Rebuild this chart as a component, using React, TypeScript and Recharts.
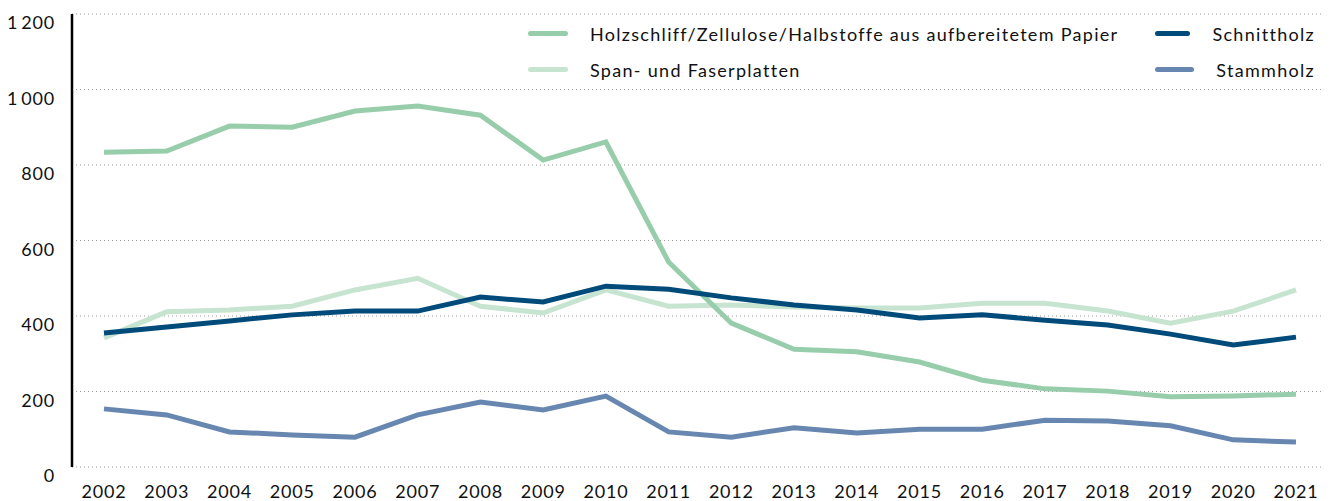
import React from "react";
import { LineChart, Line, XAxis, YAxis, CartesianGrid } from "recharts";

const years = [
  "2002", "2003", "2004", "2005", "2006", "2007", "2008", "2009", "2010", "2011",
  "2012", "2013", "2014", "2015", "2016", "2017", "2018", "2019", "2020", "2021",
];

const holzschliff = [834, 837, 903, 900, 943, 956, 932, 813, 861, 543, 381, 312, 305, 278, 230, 207, 201, 186, 188, 193];
const spanplatten = [342, 411, 416, 426, 469, 500, 426, 408, 469, 426, 429, 424, 421, 421, 434, 434, 413, 381, 413, 469];
const schnittholz = [355, 371, 387, 403, 413, 413, 450, 437, 479, 471, 448, 429, 416, 395, 403, 389, 376, 352, 323, 344];
const stammholz = [154, 138, 93, 85, 79, 138, 172, 151, 188, 93, 79, 104, 90, 100, 100, 124, 122, 109, 72, 66];

const yTicks = [0, 200, 400, 600, 800, 1000, 1200];

// legend order: row by row, two columns
const SERIES = [
  { key: "holz", name: "Holzschliff/Zellulose/Halbstoffe aus aufbereitetem Papier", color: "#98cdab" },
  { key: "schnitt", name: "Schnittholz", color: "#014b7a" },
  { key: "span", name: "Span- und Faserplatten", color: "#c7e4d1" },
  { key: "stamm", name: "Stammholz", color: "#6787b1" },
];

const data = years.map((year, i) => ({
  year,
  holz: holzschliff[i],
  span: spanplatten[i],
  schnitt: schnittholz[i],
  stamm: stammholz[i],
}));

const FONT = "Lato, 'Noto Sans', sans-serif";

const fmt = (v: number) =>
  v >= 1000 ? `${Math.floor(v / 1000)}\u2009${String(v % 1000).padStart(3, "0")}` : String(v);

function LegendBox() {
  return (
    <div
      style={{
        position: "absolute",
        top: 22,
        left: 528,
        display: "grid",
        gridTemplateColumns: "627px 160px",
        rowGap: 13,
        fontFamily: FONT,
        fontSize: 18,
        letterSpacing: 1.3,
        color: "#111",
      }}
    >
      {SERIES.map((s) => (
        <div key={s.key} style={{ display: "flex", alignItems: "center", height: 23, whiteSpace: "nowrap" }}>
          <span
            style={{
              display: "inline-block",
              width: 40,
              height: 5,
              borderRadius: 3,
              background: s.color,
              marginRight: 22,
            }}
          />
          <span>{s.name}</span>
        </div>
      ))}
    </div>
  );
}

export default function App() {
  return (
    <div style={{ position: "absolute", left: 0, top: 0, width: 1333, height: 501, background: "#fff" }}>
      <LineChart width={1333} height={501} data={data} margin={{ top: 14, right: 11, bottom: 0, left: 0 }}>
        <CartesianGrid vertical={false} stroke="#9a9a9a" strokeDasharray="1 3" />
        <XAxis
          dataKey="year"
          axisLine={false}
          tickLine={false}
          height={34}
          interval={0}
          padding={{ left: 32, right: 26 }}
          tickMargin={12}
          tick={{ fontFamily: FONT, fontSize: 18, fill: "#111", letterSpacing: 0.8 }}
        />
        <YAxis
          width={72}
          domain={[0, 1200]}
          ticks={yTicks}
          tickFormatter={fmt}
          axisLine={{ stroke: "#000", strokeWidth: 2.5 }}
          tickLine={false}
          tickSize={0}
          tickMargin={17}
          tick={{ fontFamily: FONT, fontSize: 18, fill: "#111", dy: 9, letterSpacing: 0.8 }}
        />
        <Line dataKey="stamm" stroke="#6787b1" strokeWidth={5} dot={false} isAnimationActive={false} />
        <Line dataKey="span" stroke="#c7e4d1" strokeWidth={5} dot={false} isAnimationActive={false} />
        <Line dataKey="holz" stroke="#98cdab" strokeWidth={5} dot={false} isAnimationActive={false} />
        <Line dataKey="schnitt" stroke="#014b7a" strokeWidth={5} dot={false} isAnimationActive={false} />
      </LineChart>
      <LegendBox />
    </div>
  );
}
